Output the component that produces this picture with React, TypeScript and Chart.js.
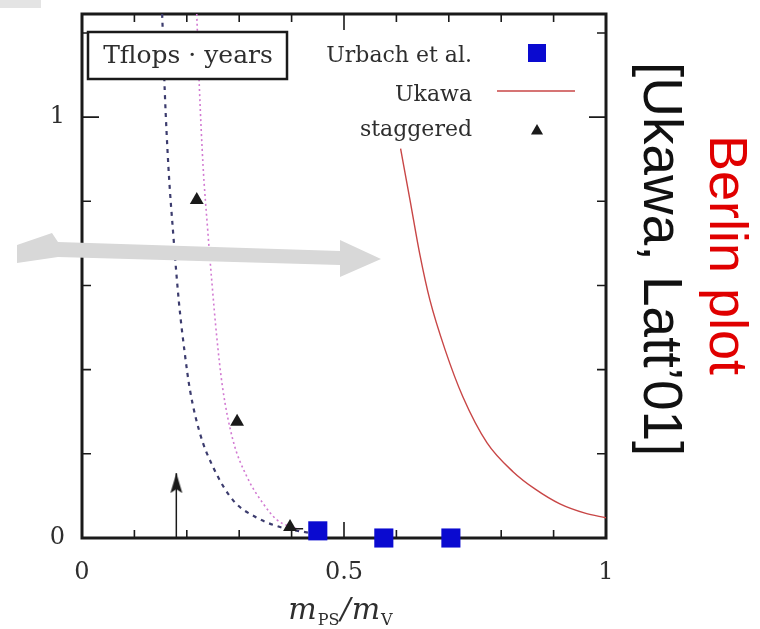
import React, { useEffect, useRef } from 'react';
import { Chart, registerables } from 'chart.js';

Chart.register(...registerables);

// ---- data ----
const urbachX = [0.45, 0.576, 0.704];
const urbachY = [0.017, 0.0, 0.0];

const staggeredX = [0.219, 0.296, 0.397];
const staggeredY = [0.803, 0.276, 0.026];

const ukawaX = [0.608, 0.626, 0.645, 0.664, 0.693, 0.727, 0.773, 0.823, 0.865, 0.912, 0.96, 1.0];
const ukawaY = [0.925, 0.803, 0.672, 0.565, 0.447, 0.335, 0.226, 0.157, 0.116, 0.081, 0.059, 0.048];

const dashX = [0.153, 0.158, 0.165, 0.174, 0.185, 0.196, 0.206, 0.225, 0.25, 0.288, 0.334, 0.378, 0.435];
const dashY = [1.245, 1.06, 0.88, 0.724, 0.56, 0.44, 0.352, 0.249, 0.169, 0.09, 0.048, 0.026, 0.012];

const dotX = [0.219, 0.224, 0.231, 0.24, 0.248, 0.257, 0.268, 0.288, 0.315, 0.345, 0.372, 0.416];
const dotY = [1.245, 1.07, 0.885, 0.73, 0.606, 0.48, 0.36, 0.233, 0.145, 0.083, 0.043, 0.019];

const arrowX = [0.18, 0.18];
const arrowY = [0.0, 0.154];

const errX = [0.397, 0.422];
const errY = [0.022, 0.022];

const xMin = 0;
const xMax = 1;
const yMin = 0;
const yMax = 1.245;
const xStep = 0.1;
const yTicks = [0, 0.2, 0.4, 0.6, 0.8, 1.0, 1.2];
const xLabelValues = [0, 0.5, 1];
const xLabelTexts = ['0', '0.5', '1'];
const yLabelValues = [0, 1];
const yLabelTexts = ['0', '1'];

const legendLabels = ['Urbach et al.', 'Ukawa', 'staggered'];
const boxText = 'Tflops · years';
const sideTitle = 'Berlin plot';
const sideRef = '[Ukawa, Latt\u201901]';

const pts = (xs: number[], ys: number[]) => xs.map((x, i) => ({ x, y: ys[i] }));
const near = (a: number, b: number) => Math.abs(a - b) < 1e-6;

const BLUE = '#0a0ad0';
const RED = '#c84646';
const NAVY = '#3c3c6e';
const MAGENTA = '#d27ad2';
const INK = '#1a1a1a';
const TEXT = '#2e2e2e';

function makeHead(): HTMLCanvasElement {
  const c = document.createElement('canvas');
  c.width = 14;
  c.height = 40;
  const g = c.getContext('2d')!;
  g.fillStyle = INK;
  g.beginPath();
  g.moveTo(7, 20);
  g.lineTo(1, 40);
  g.lineTo(7, 36);
  g.lineTo(13, 40);
  g.closePath();
  g.fill();
  return c;
}

function drawTriangle(ctx: CanvasRenderingContext2D, x: number, y: number, r: number) {
  ctx.beginPath();
  for (let k = 0; k < 3; k++) {
    const a = (k * 2 * Math.PI) / 3;
    const px = x + Math.sin(a) * r;
    const py = y - Math.cos(a) * r;
    if (k === 0) ctx.moveTo(px, py);
    else ctx.lineTo(px, py);
  }
  ctx.closePath();
  ctx.fill();
}

const decor = {
  id: 'decor',
  beforeDatasetsDraw(chart: any) {
    const { ctx, chartArea: a, scales } = chart;
    const xs = scales.x;
    const ys = scales.y;
    ctx.save();
    ctx.strokeStyle = INK;
    ctx.lineWidth = 1.6;
    ctx.beginPath();
    xs.ticks.forEach((t: any) => {
      const px = xs.getPixelForValue(t.value);
      const len = xLabelValues.some((v) => near(v, t.value)) ? 16 : 8;
      ctx.moveTo(px, a.bottom);
      ctx.lineTo(px, a.bottom - len);
      ctx.moveTo(px, a.top);
      ctx.lineTo(px, a.top + len);
    });
    ys.ticks.forEach((t: any) => {
      const py = ys.getPixelForValue(t.value);
      const len = yLabelValues.some((v) => near(v, t.value)) ? 17 : 9;
      ctx.moveTo(a.left, py);
      ctx.lineTo(a.left + len, py);
      ctx.moveTo(a.right, py);
      ctx.lineTo(a.right - len, py);
    });
    ctx.stroke();
    ctx.lineWidth = 3;
    ctx.strokeRect(a.left, a.top, a.right - a.left, a.bottom - a.top);
    ctx.restore();
  },
  afterDraw(chart: any) {
    const { ctx } = chart;
    ctx.save();

    // legend (top right, inside the frame)
    ctx.fillStyle = '#ffffff';
    ctx.fillRect(312, 36, 272, 110);
    ctx.font = '22px "DejaVu Serif"';
    ctx.textAlign = 'right';
    ctx.textBaseline = 'alphabetic';
    ctx.fillStyle = TEXT;
    const baselines = [62, 101, 136];
    legendLabels.forEach((l, i) => ctx.fillText(l, 472, baselines[i]));
    ctx.fillStyle = BLUE;
    ctx.fillRect(528, 44, 18, 18);
    ctx.strokeStyle = RED;
    ctx.lineWidth = 1.4;
    ctx.beginPath();
    ctx.moveTo(497, 91);
    ctx.lineTo(575, 91);
    ctx.stroke();
    ctx.fillStyle = INK;
    drawTriangle(ctx, 537, 131, 7);

    // Tflops box
    ctx.fillStyle = '#ffffff';
    ctx.fillRect(88, 32, 199, 47);
    ctx.strokeStyle = INK;
    ctx.lineWidth = 2.5;
    ctx.strokeRect(88, 32, 199, 47);
    ctx.fillStyle = TEXT;
    ctx.font = '25px "DejaVu Serif"';
    ctx.textAlign = 'center';
    ctx.textBaseline = 'middle';
    ctx.fillText(boxText, 188, 56);

    // x-axis title  m_PS / m_V
    ctx.textAlign = 'left';
    ctx.textBaseline = 'alphabetic';
    const big = 'italic 30px "DejaVu Serif"';
    const small = '16px "DejaVu Serif"';
    const parts: [string, string, number][] = [
      ['m', big, 0],
      ['PS', small, 6],
      ['/', big, 0],
      ['m', big, 0],
      ['V', small, 6],
    ];
    let total = 0;
    parts.forEach(([s, f]) => {
      ctx.font = f;
      total += ctx.measureText(s).width + 1;
    });
    let cx = 341 - total / 2;
    ctx.fillStyle = TEXT;
    parts.forEach(([s, f, dy]) => {
      ctx.font = f;
      ctx.fillText(s, cx, 619 + dy);
      cx += ctx.measureText(s).width + 1;
    });

    // rotated side texts
    ctx.font = '54px "Liberation Sans"';
    ctx.fillStyle = '#e00000';
    ctx.save();
    ctx.translate(710, 135);
    ctx.rotate(Math.PI / 2);
    ctx.fillText(sideTitle, 0, 0);
    ctx.restore();

    ctx.font = '55px "Liberation Sans"';
    ctx.fillStyle = '#111111';
    ctx.save();
    ctx.translate(644, 62);
    ctx.rotate(Math.PI / 2);
    ctx.fillText(sideRef, 0, 0);
    ctx.restore();

    // big gray arrow overlay
    ctx.fillStyle = '#d8d8d8';
    ctx.beginPath();
    ctx.moveTo(17, 245);
    ctx.lineTo(52, 233);
    ctx.lineTo(58, 242);
    ctx.lineTo(340, 251);
    ctx.lineTo(340, 240);
    ctx.lineTo(381, 259);
    ctx.lineTo(340, 277);
    ctx.lineTo(340, 265);
    ctx.lineTo(58, 257);
    ctx.lineTo(17, 263);
    ctx.closePath();
    ctx.fill();

    // small gray slide fragment top-left
    ctx.fillStyle = '#e4e4e4';
    ctx.fillRect(0, 0, 41, 8);

    ctx.restore();
  },
};

export default function App() {
  const ref = useRef<HTMLCanvasElement | null>(null);

  useEffect(() => {
    const canvas = ref.current;
    if (!canvas) return;
    const head = makeHead();
    const tickFont = { family: '"DejaVu Serif"', size: 24 };

    const chart = new Chart(canvas, {
      type: 'scatter',
      data: {
        datasets: [
          {
            label: legendLabels[0],
            data: pts(urbachX, urbachY),
            pointStyle: 'rect',
            pointRadius: 13.5,
            backgroundColor: BLUE,
            borderColor: BLUE,
            borderWidth: 0,
            showLine: false,
            clip: false,
          },
          {
            label: legendLabels[2],
            data: pts(staggeredX, staggeredY),
            pointStyle: 'triangle',
            pointRadius: 8,
            backgroundColor: INK,
            borderColor: INK,
            borderWidth: 0,
            showLine: false,
            clip: false,
          },
          {
            label: 'err',
            data: pts(errX, errY),
            showLine: true,
            pointRadius: 0,
            borderColor: INK,
            borderWidth: 1.5,
            clip: false,
          },
          {
            label: 'arrow',
            data: pts(arrowX, arrowY),
            showLine: true,
            pointRadius: [0, 7],
            pointStyle: head,
            borderColor: INK,
            backgroundColor: INK,
            borderWidth: 1.5,
            clip: false,
          },
          {
            label: legendLabels[1],
            data: pts(ukawaX, ukawaY),
            showLine: true,
            pointRadius: 0,
            borderColor: RED,
            borderWidth: 1.4,
            cubicInterpolationMode: 'monotone',
          },
          {
            label: 'dashed',
            data: pts(dashX, dashY),
            showLine: true,
            pointRadius: 0,
            borderColor: NAVY,
            borderWidth: 2.2,
            borderDash: [4, 5],
            cubicInterpolationMode: 'monotone',
          },
          {
            label: 'dotted',
            data: pts(dotX, dotY),
            showLine: true,
            pointRadius: 0,
            borderColor: MAGENTA,
            borderWidth: 1.6,
            borderDash: [2, 3],
            cubicInterpolationMode: 'monotone',
          },
        ],
      } as any,
      options: {
        responsive: false,
        animation: false,
        devicePixelRatio: 1,
        events: [],
        layout: { padding: { top: 14, right: 154, left: 0, bottom: 0 } },
        plugins: {
          legend: { display: false },
          tooltip: { enabled: false },
        },
        scales: {
          x: {
            type: 'linear',
            min: xMin,
            max: xMax,
            grid: { display: false, drawTicks: false },
            border: { display: false },
            ticks: {
              stepSize: xStep,
              autoSkip: false,
              maxRotation: 0,
              padding: 20,
              color: TEXT,
              font: tickFont,
              callback: (v: any) => {
                const i = xLabelValues.findIndex((u) => near(u, Number(v)));
                return i >= 0 ? xLabelTexts[i] : '';
              },
            },
            afterFit: (s: any) => {
              s.height = 91;
              s.paddingLeft = 0;
              s.paddingRight = 0;
            },
          },
          y: {
            type: 'linear',
            min: yMin,
            max: yMax,
            grid: { display: false, drawTicks: false },
            border: { display: false },
            afterBuildTicks: (s: any) => {
              s.ticks = yTicks.map((v) => ({ value: v }));
            },
            ticks: {
              autoSkip: false,
              padding: 17,
              color: TEXT,
              font: tickFont,
              callback: (v: any) => {
                const i = yLabelValues.findIndex((u) => near(u, Number(v)));
                return i >= 0 ? yLabelTexts[i] : '';
              },
            },
            afterFit: (s: any) => {
              s.width = 82;
              s.paddingTop = 0;
              s.paddingBottom = 0;
            },
          },
        },
      } as any,
      plugins: [decor],
    });

    return () => chart.destroy();
  }, []);

  return (
    <div style={{ position: 'fixed', left: 0, top: 0, width: 760, height: 629, background: '#ffffff' }}>
      <canvas ref={ref} width={760} height={629} style={{ display: 'block' }} />
    </div>
  );
}
